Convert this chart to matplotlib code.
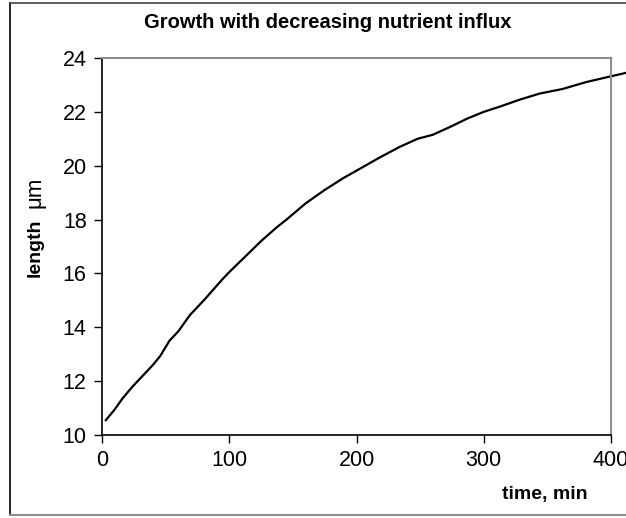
import numpy as np
import matplotlib
matplotlib.use("Agg")
import matplotlib.pyplot as plt
from matplotlib.lines import Line2D

plt.rcParams['font.family'] = ['Liberation Sans', 'DejaVu Sans']

# time (min) and cell length (um)
time_min = [3, 10, 16, 24, 32, 40, 46, 53, 60, 69, 80, 94, 100, 112, 125,
            137, 145, 160, 175, 190, 205, 218, 234, 248, 260, 274, 287, 300,
            313, 328, 344, 362, 380, 398, 412]
length_um = [10.55, 10.95, 11.35, 11.8, 12.2, 12.6, 12.95, 13.5, 13.85, 14.45,
             15.0, 15.75, 16.05, 16.6, 17.2, 17.7, 18.0, 18.6, 19.1, 19.55,
             19.95, 20.3, 20.7, 21.0, 21.15, 21.45, 21.75, 22.0, 22.2, 22.45,
             22.68, 22.85, 23.1, 23.3, 23.45]
x_ticks = [0, 100, 200, 300, 400]
y_ticks = [10, 12, 14, 16, 18, 20, 22, 24]

W, H = 626, 518
fig = plt.figure(figsize=(W / 100, H / 100), dpi=100)
ax = fig.add_axes([102 / W, 1 - 435 / H, (611 - 102) / W, (435 - 58) / H])

ax.plot(time_min, length_um, color='black', lw=1.6, clip_on=False)
ax.set_xlim(0, 400)
ax.set_ylim(10, 24)
ax.set_xticks(x_ticks)
ax.set_yticks(y_ticks)
ax.tick_params(direction='out', length=6, width=1, labelsize=15.5, pad=5)

for s in ['top', 'right']:
    ax.spines[s].set_color('#8c8c8c')
    ax.spines[s].set_linewidth(1.5)
for s in ['left', 'bottom']:
    ax.spines[s].set_color('black')
    ax.spines[s].set_linewidth(1.2)

fig.text(328 / W, 1 - 22 / H, 'Growth with decreasing nutrient influx',
         ha='center', va='center', fontsize=14.5, fontweight='bold')
fig.text(545 / W, 1 - 495 / H, 'time, min', ha='center', va='center',
         fontsize=14, fontweight='bold')
fig.text(35 / W, 1 - 248 / H, 'length', ha='center', va='center',
         rotation=90, fontsize=14, fontweight='bold')
fig.text(35 / W, 1 - 192 / H, 'μm', ha='center', va='center',
         rotation=90, fontsize=16)

# outer chart border
fig.add_artist(Line2D([10 / W, 10 / W], [1 - 3 / H, 1 - 515 / H], color='black', lw=1.2))
fig.add_artist(Line2D([10 / W, 1], [1 - 515 / H, 1 - 515 / H], color='#8c8c8c', lw=1.5))
fig.add_artist(Line2D([10 / W, 1], [1 - 3 / H, 1 - 3 / H], color='#444444', lw=1.2))

fig.savefig('out.png', dpi=100)
